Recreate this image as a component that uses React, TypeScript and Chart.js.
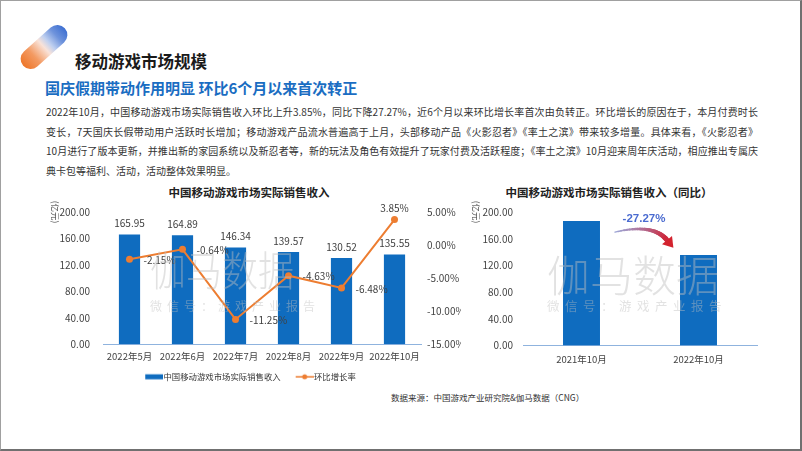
import React, { useEffect, useRef } from 'react';
import { Chart, registerables } from 'chart.js';
Chart.register(...registerables);

// ---------- data ----------
const months = ['2022年5月', '2022年6月', '2022年7月', '2022年8月', '2022年9月', '2022年10月'];
const revenue = [165.95, 164.89, 146.34, 139.57, 130.52, 135.55];
const momGrowth = [-2.15, -0.64, -11.25, -4.63, -6.48, 3.85];
const revenueTicks = [0, 40, 80, 120, 160, 200];
const growthTicks = [-15, -10, -5, 0, 5];

const yoyCategories = ['2021年10月', '2022年10月'];
const yoyRevenue = [186.37, 135.55];
const yoyChange = -27.27;

const barLabel = '中国移动游戏市场实际销售收入';
const lineLabel = '环比增长率';

// ---------- styles ----------
const FONT = '"Noto Sans CJK SC", "Noto Sans", sans-serif';
const BLUE = '#0f6cbf';
const ORANGE = '#ed7d31';
const AXIS = '#8fb3de';
const TICK = '#444';

Chart.defaults.font.family = FONT;

function makeSwatch(kind: 'bar' | 'line') {
  const c = document.createElement('canvas');
  c.width = 32;
  c.height = 8;
  const g = c.getContext('2d')!;
  if (kind === 'bar') {
    g.fillStyle = BLUE;
    g.fillRect(14, 1.5, 18, 5);
  } else {
    g.strokeStyle = ORANGE;
    g.lineWidth = 1.5;
    g.beginPath();
    g.moveTo(14, 4);
    g.lineTo(32, 4);
    g.stroke();
    g.fillStyle = ORANGE;
    g.beginPath();
    g.arc(23, 4, 2.5, 0, Math.PI * 2);
    g.fill();
  }
  return c;
}

const leftLabelsPlugin = {
  id: 'leftLabels',
  afterDatasetsDraw(chart: any) {
    const ctx = chart.ctx;
    ctx.save();
    ctx.font = `10px ${FONT}`;
    ctx.fillStyle = '#404040';
    ctx.textBaseline = 'middle';
    ctx.textAlign = 'center';
    chart.getDatasetMeta(0).data.forEach((bar: any, i: number) => {
      ctx.fillText(revenue[i].toFixed(2), bar.x, bar.y - 11);
    });
    chart.getDatasetMeta(1).data.forEach((pt: any, i: number) => {
      const txt = momGrowth[i].toFixed(2) + '%';
      if (momGrowth[i] > 0) {
        ctx.textAlign = 'center';
        ctx.fillText(txt, pt.x, pt.y - 11);
      } else {
        ctx.textAlign = 'left';
        ctx.fillText(txt, pt.x + 14, pt.y + 1);
      }
    });
    ctx.restore();
  },
};

const rightLabelsPlugin = {
  id: 'rightLabels',
  afterDatasetsDraw(chart: any) {
    const ctx = chart.ctx;
    const bars = chart.getDatasetMeta(0).data;
    const b0 = bars[0];
    const b1 = bars[1];
    ctx.save();
    ctx.font = `bold 11.5px "Liberation Sans", Arial, sans-serif`;
    ctx.fillStyle = '#4a6bd0';
    ctx.textAlign = 'center';
    ctx.textBaseline = 'middle';
    ctx.fillText(yoyChange.toFixed(2) + '%', (b0.x + b1.x) / 2 + 4, b0.y - 2);
    const S = { x: b0.x + b0.width / 2 + 15, y: b0.y + 11 };
    const C = { x: S.x + 38, y: S.y - 9 };
    const T0 = { x: b1.x - b1.width / 2 - 8, y: b1.y - 6 };
    const E = { x: T0.x - 5, y: T0.y - 9 };
    const n = 24;
    let prev = S;
    for (let k = 1; k <= n; k++) {
      const t = k / n;
      const x = (1 - t) * (1 - t) * S.x + 2 * (1 - t) * t * C.x + t * t * E.x;
      const y = (1 - t) * (1 - t) * S.y + 2 * (1 - t) * t * C.y + t * t * E.y;
      const r = Math.round(155 + (205 - 155) * t);
      const g = Math.round(170 + (40 - 170) * t);
      const b = Math.round(220 + (60 - 220) * t);
      ctx.strokeStyle = `rgb(${r},${g},${b})`;
      ctx.lineWidth = 1.2 + 3.8 * t;
      ctx.lineCap = 'round';
      ctx.beginPath();
      ctx.moveTo(prev.x, prev.y);
      ctx.lineTo(x, y);
      ctx.stroke();
      prev = { x, y };
    }
    const dx = E.x - C.x;
    const dy = E.y - C.y;
    const len = Math.hypot(dx, dy);
    const ux = dx / len;
    const uy = dy / len;
    const px = -uy;
    const py = ux;
    ctx.fillStyle = '#d3232e';
    ctx.beginPath();
    ctx.moveTo(E.x + ux * 10, E.y + uy * 10);
    ctx.lineTo(E.x + px * 6.5, E.y + py * 6.5);
    ctx.lineTo(E.x - px * 6.5, E.y - py * 6.5);
    ctx.closePath();
    ctx.fill();
    ctx.restore();
  },
};

const abs = (left: number, top: number, extra: any = {}) => ({
  position: 'absolute' as const,
  left,
  top,
  margin: 0,
  whiteSpace: 'nowrap' as const,
  ...extra,
});

const paraLines = [
  '2022年10月，中国移动游戏市场实际销售收入环比上升3.85%，同比下降27.27%，近6个月以来环比增长率首次由负转正。环比增长的原因在于，本月付费时长',
  '变长，7天国庆长假带动用户活跃时长增加；移动游戏产品流水普遍高于上月，头部移动产品《火影忍者》《率土之滨》带来较多增量。具体来看，《火影忍者》',
  '10月进行了版本更新，并推出新的家园系统以及新忍者等，新的玩法及角色有效提升了玩家付费及活跃程度；《率土之滨》10月迎来周年庆活动，相应推出专属庆',
  '典卡包等福利、活动，活动整体效果明显。',
];

export default function App() {
  const leftRef = useRef<HTMLCanvasElement>(null);
  const rightRef = useRef<HTMLCanvasElement>(null);

  useEffect(() => {
    document.body.style.margin = '0';
    const swatches = [makeSwatch('bar'), makeSwatch('line')];
    const tickFont = { family: FONT, size: 10 };

    const left = new Chart(leftRef.current!, {
      type: 'bar',
      data: {
        labels: months,
        datasets: [
          {
            type: 'bar',
            label: barLabel,
            data: revenue,
            backgroundColor: BLUE,
            yAxisID: 'y',
            categoryPercentage: 0.8,
            barPercentage: 0.5,
            order: 1,
          } as any,
          {
            type: 'line',
            label: lineLabel,
            data: momGrowth,
            borderColor: ORANGE,
            backgroundColor: ORANGE,
            borderWidth: 2,
            pointRadius: 3.5,
            pointBorderWidth: 0,
            pointBackgroundColor: ORANGE,
            tension: 0,
            yAxisID: 'y1',
            order: 0,
          } as any,
        ],
      },
      options: {
        responsive: false,
        animation: false,
        layout: { padding: { top: 6, right: 19, left: 0, bottom: 0 } },
        plugins: {
          tooltip: { enabled: false },
          legend: {
            position: 'bottom',
            labels: {
              usePointStyle: true,
              pointStyleWidth: 24,
              padding: 5,
              color: '#333',
              font: { family: FONT, size: 8.4 },
              generateLabels: (chart: any) =>
                chart.data.datasets.map((ds: any, i: number) => ({
                  text: ds.label,
                  pointStyle: swatches[i],
                  fillStyle: i === 0 ? BLUE : ORANGE,
                  strokeStyle: i === 0 ? BLUE : ORANGE,
                  lineWidth: 0,
                  hidden: false,
                  datasetIndex: i,
                  fontColor: '#333',
                })),
            },
          },
        },
        scales: {
          x: {
            grid: { display: false, drawTicks: false },
            border: { display: true, color: AXIS, width: 1 },
            ticks: { color: TICK, font: { family: FONT, size: 9.5 }, padding: 6, maxRotation: 0, autoSkip: false },
          },
          y: {
            position: 'left',
            min: 0,
            max: 200,
            afterBuildTicks: (s: any) => {
              s.ticks = revenueTicks.map((v) => ({ value: v }));
            },
            afterFit: (s: any) => {
              s.width = 73;
            },
            ticks: { color: TICK, font: tickFont, padding: 13, callback: (v: any) => Number(v).toFixed(2) },
            grid: { display: false, drawTicks: false },
            border: { display: false },
          },
          y1: {
            position: 'right',
            min: -15,
            max: 5,
            afterBuildTicks: (s: any) => {
              s.ticks = growthTicks.map((v) => ({ value: v }));
            },
            afterFit: (s: any) => {
              s.width = 40;
            },
            ticks: { color: TICK, font: tickFont, padding: 6, callback: (v: any) => Number(v).toFixed(2) + '%' },
            grid: { display: false, drawTicks: false },
            border: { display: false },
          },
        },
      } as any,
      plugins: [leftLabelsPlugin],
    });

    const right = new Chart(rightRef.current!, {
      type: 'bar',
      data: {
        labels: yoyCategories,
        datasets: [
          {
            label: barLabel,
            data: yoyRevenue,
            backgroundColor: BLUE,
            categoryPercentage: 0.8,
            barPercentage: 0.395,
          },
        ],
      },
      options: {
        responsive: false,
        animation: false,
        layout: { padding: { top: 6, right: 13, left: 0, bottom: 0 } },
        plugins: { legend: { display: false }, tooltip: { enabled: false } },
        scales: {
          x: {
            grid: { display: false, drawTicks: false },
            border: { display: true, color: AXIS, width: 1 },
            ticks: { color: TICK, font: { family: FONT, size: 9.5 }, padding: 8, maxRotation: 0 },
          },
          y: {
            min: 0,
            max: 200,
            afterBuildTicks: (s: any) => {
              s.ticks = revenueTicks.map((v) => ({ value: v }));
            },
            afterFit: (s: any) => {
              s.width = 53;
            },
            ticks: { color: TICK, font: tickFont, padding: 10, callback: (v: any) => Number(v).toFixed(2) },
            grid: { display: false, drawTicks: false },
            border: { display: false },
          },
        },
      } as any,
      plugins: [rightLabelsPlugin],
    });

    return () => {
      left.destroy();
      right.destroy();
    };
  }, []);

  const wmColor = 'rgba(190,190,190,0.45)';

  return (
    <div
      style={{
        position: 'absolute',
        left: 0,
        top: 0,
        width: 802,
        height: 451,
        background: '#fff',
        overflow: 'hidden',
        fontFamily: FONT,
      }}
    >
      {/* logo */}
      <div
        style={{
          position: 'absolute',
          left: 44 - 28,
          top: 47 - 10,
          width: 56,
          height: 20,
          borderRadius: 10,
          transform: 'rotate(-42deg)',
          background:
            'linear-gradient(90deg, #ee7629 0%, #f39a62 26%, rgba(246,214,200,0.7) 50%, rgba(175,196,236,0.8) 62%, #6e93dc 80%, #3d6fd1 100%)',
        }}
      />
      <div style={abs(75, 51, { fontSize: 16.5, lineHeight: '20px', fontWeight: 700, color: '#1a1a1a' })}>
        移动游戏市场规模
      </div>
      <div style={abs(45, 78, { fontSize: 15, lineHeight: '20px', fontWeight: 700, color: '#1a6dc2' })}>
        国庆假期带动作用明显 环比6个月以来首次转正
      </div>
      {paraLines.map((t, i) => (
        <div
          key={i}
          style={{
            position: 'absolute',
            left: 46,
            top: 102 + i * 19.5,
            width: 712,
            fontSize: 10,
            lineHeight: '20px',
            color: '#333',
            textAlign: 'justify',
            textAlignLast: i < paraLines.length - 1 ? 'justify' : 'left',
            whiteSpace: 'normal',
          }}
        >
          {t}
        </div>
      ))}

      {/* chart titles */}
      <div style={abs(249 - 100, 184, { width: 200, textAlign: 'center', fontSize: 11.5, lineHeight: '16px', fontWeight: 700, color: '#222' })}>
        中国移动游戏市场实际销售收入
      </div>
      <div style={abs(609 - 120, 184, { width: 240, textAlign: 'center', fontSize: 11.5, lineHeight: '16px', fontWeight: 700, color: '#222' })}>
        中国移动游戏市场实际销售收入（同比）
      </div>

      <canvas ref={leftRef} width={450} height={198} style={{ position: 'absolute', left: 30, top: 193, width: 450, height: 198 }} />
      <canvas ref={rightRef} width={300} height={177} style={{ position: 'absolute', left: 470, top: 196, width: 300, height: 177 }} />

      {/* unit labels */}
      <div style={abs(56 - 15, 212 - 6, { width: 30, textAlign: 'center', fontSize: 8.5, lineHeight: '12px', color: '#555', transform: 'rotate(90deg)' })}>
        (亿元)
      </div>
      <div style={abs(477 - 15, 212 - 6, { width: 30, textAlign: 'center', fontSize: 8.5, lineHeight: '12px', color: '#555', transform: 'rotate(90deg)' })}>
        (亿元)
      </div>

      {/* watermarks */}
      <div style={abs(150, 246, { fontSize: 36, lineHeight: '44px', fontWeight: 300, color: wmColor, pointerEvents: 'none', transform: 'scaleY(1.15)' })}>
        伽马数据
      </div>
      <div style={abs(150, 298, { fontSize: 12, lineHeight: '16px', letterSpacing: 5, color: wmColor, pointerEvents: 'none' })}>
        微信号：游戏产业报告
      </div>
      <div style={abs(547, 250, { fontSize: 43, lineHeight: '46px', fontWeight: 300, color: wmColor, pointerEvents: 'none' })}>
        伽马数据
      </div>
      <div style={abs(547, 298, { fontSize: 12.5, lineHeight: '16px', letterSpacing: 5.5, color: wmColor, pointerEvents: 'none' })}>
        微信号：游戏产业报告
      </div>

      {/* source */}
      <div style={abs(391, 391, { fontSize: 8.5, lineHeight: '12px', color: '#333' })}>
        数据来源：中国游戏产业研究院&伽马数据（CNG）
      </div>

      {/* frame */}
      <div
        style={{
          position: 'absolute',
          left: 0,
          top: 0,
          width: 802,
          height: 451,
          boxSizing: 'border-box',
          borderLeft: '1px solid #a0a0a0',
          borderTop: '1px solid #a0a0a0',
          borderRight: '2px solid #707070',
          borderBottom: '2px solid #707070',
          pointerEvents: 'none',
        }}
      />
    </div>
  );
}
